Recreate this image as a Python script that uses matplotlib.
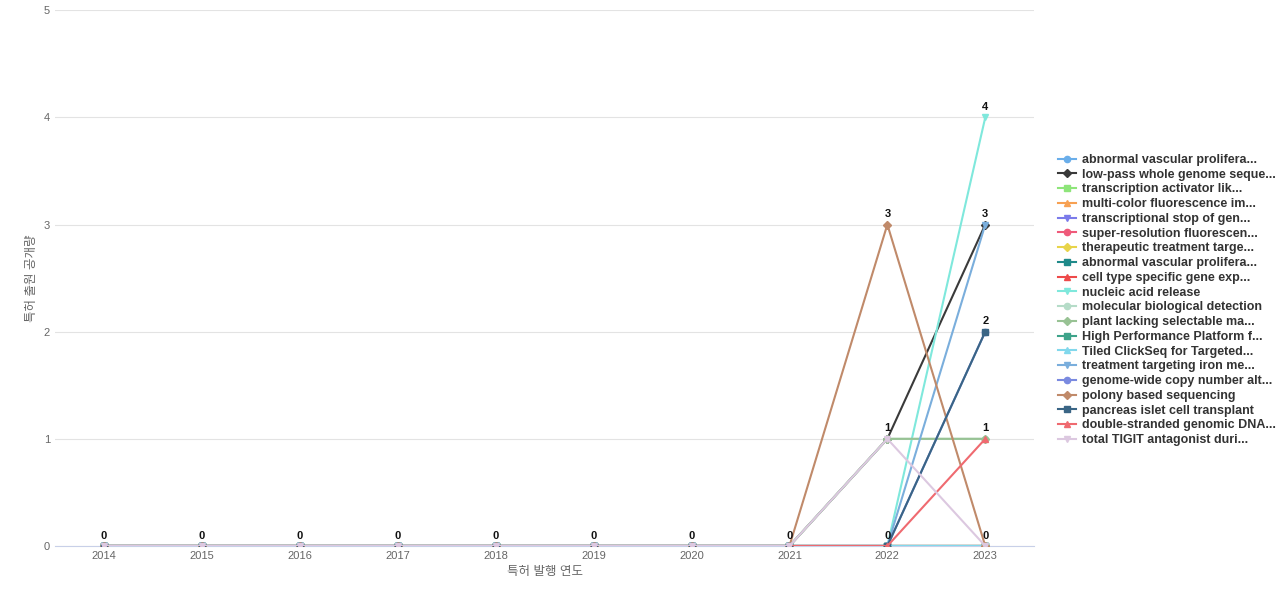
import matplotlib
matplotlib.use("Agg")
import matplotlib.pyplot as plt

plt.rcParams['font.family'] = ['Liberation Sans', 'Noto Sans CJK KR', 'DejaVu Sans']

years = [2014, 2015, 2016, 2017, 2018, 2019, 2020, 2021, 2022, 2023]
names = ["abnormal vascular prolifera...", "low-pass whole genome seque...", "transcription activator lik...",
         "multi-color fluorescence im...", "transcriptional stop of gen...", "super-resolution fluorescen...",
         "therapeutic treatment targe...", "abnormal vascular prolifera...", "cell type specific gene exp...",
         "nucleic acid release", "molecular biological detection", "plant lacking selectable ma...",
         "High Performance Platform f...", "Tiled ClickSeq for Targeted...", "treatment targeting iron me...",
         "genome-wide copy number alt...", "polony based sequencing", "pancreas islet cell transplant",
         "double-stranded genomic DNA...", "total TIGIT antagonist duri..."]
colors = ["#6aaeea", "#3a3a3a", "#8ee57a", "#f7a152", "#7b7bea", "#ef5a7a", "#e8d44a", "#1f8a8a",
          "#ee4a4a", "#7fe8dc", "#b5dcc8", "#98c294", "#3ea38a", "#82d8ec", "#7aaedc", "#7a8ae0",
          "#c08a6a", "#3a6585", "#ef6a70", "#dcc8e0"]
markers = ['o', 'D', 's', '^', 'v', 'o', 'D', 's', '^', 'v', 'o', 'D', 's', '^', 'v', 'o', 'D', 's', '^', 'v']
z = [0]*8
values = {
    1: z + [1, 3],
    9: z + [0, 4],
    10: z + [1, 1],
    11: z + [1, 1],
    14: z + [0, 3],
    15: z + [0, 2],
    16: z + [3, 0],
    17: z + [0, 2],
    18: z + [0, 1],
    19: z + [1, 0],
}
series = [values.get(i, [0]*10) for i in range(20)]

fig = plt.figure(figsize=(12.8, 6), dpi=100)
ax = fig.add_axes([0.043, 0.09, 0.765, 0.893])
for i, (n, c, m, v) in enumerate(zip(names, colors, markers, series)):
    ax.plot(years, v, color=c, marker=m, markersize=4.5, linewidth=1.5, label=n, zorder=3)

lab = {}
for v in series:
    for x, y in zip(years, v):
        lab[x] = lab.get(x, set()) | {y}
for x, ys in lab.items():
    for y in ys:
        ax.text(x, y + 0.05, str(y), ha='center', va='bottom', fontsize=8, fontweight='bold', color='#111')

ax.set_xlim(2013.5, 2023.5)
ax.set_ylim(0, 5)
ax.set_xticks(years)
ax.set_yticks(range(6))
ax.tick_params(length=0, labelsize=8, colors='#666')
ax.grid(axis='y', color='#e3e3e3', linewidth=0.8)
for s in ['top', 'right', 'left']:
    ax.spines[s].set_visible(False)
ax.spines['bottom'].set_color('#c8d0e8')
ax.set_xlabel('특허 발행 연도', fontsize=9, color='#666')
ax.set_ylabel('특허 출원 공개량', fontsize=9, color='#666')

h, l = ax.get_legend_handles_labels()
leg = fig.legend(h, l, loc='center left', bbox_to_anchor=(0.818, 0.5), frameon=False,
                 prop={'size': 9, 'weight': 'bold'}, handlelength=1.4, labelspacing=0.22,
                 handletextpad=0.5, markerscale=1.0)
for t in leg.get_texts():
    t.set_color('#333')
fig.savefig('out.png', dpi=100)
